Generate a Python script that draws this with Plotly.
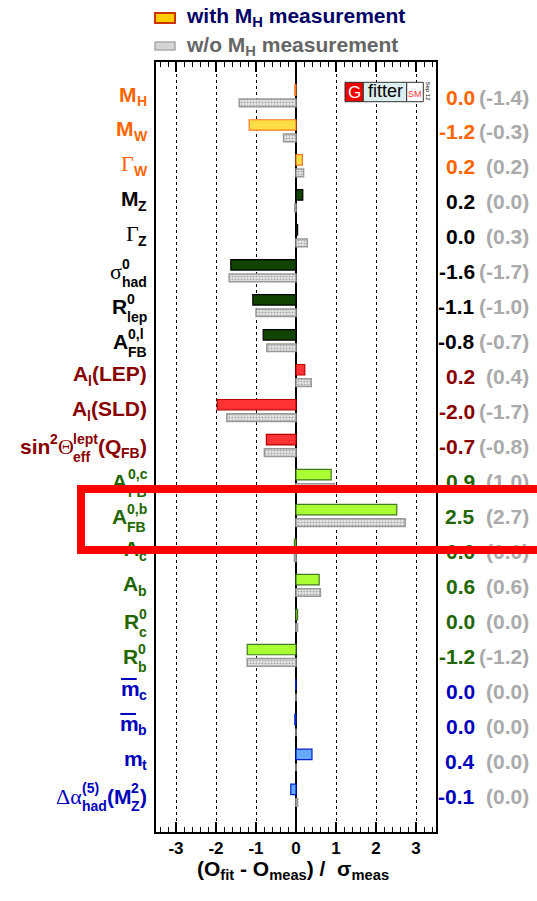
import plotly.graph_objects as go

# ---------------- data ----------------
groups = ["orange"] * 3 + ["black"] * 5 + ["darkred"] * 3 + ["green"] * 6 + ["blue"] * 4
pull_with = [-0.03, -1.17, 0.16, 0.17, 0.04, -1.63, -1.08, -0.82, 0.22, -1.97, -0.74,
             0.88, 2.52, -0.04, 0.58, 0.04, -1.22, -0.01, -0.03, 0.40, -0.13]
pull_without = [-1.42, -0.31, 0.19, -0.03, 0.28, -1.67, -1.00, -0.73, 0.38, -1.73, -0.79,
                0.96, 2.73, -0.04, 0.61, 0.04, -1.22, 0.0, 0.0, 0.0, 0.04]
# label pieces: ('t', text) bold sans, ('g', text) serif greek, ('s', sup, sub) stacked scripts,
# ('o', text) overlined bold text
labels = [
    [("t", "M"), ("s", None, "H")],
    [("t", "M"), ("s", None, "W")],
    [("g", "Γ"), ("s", None, "W")],
    [("t", "M"), ("s", None, "Z")],
    [("g", "Γ"), ("s", None, "Z")],
    [("g", "σ"), ("s", "0", "had")],
    [("t", "R"), ("s", "0", "lep")],
    [("t", "A"), ("s", "0,l", "FB")],
    [("t", "A"), ("s", None, "l"), ("t", "(LEP)")],
    [("t", "A"), ("s", None, "l"), ("t", "(SLD)")],
    [("t", "sin"), ("s", "2", None), ("g", "Θ"), ("s", "lept", "eff"), ("t", "(Q"), ("s", None, "FB"), ("t", ")")],
    [("t", "A"), ("s", "0,c", "FB")],
    [("t", "A"), ("s", "0,b", "FB")],
    [("t", "A"), ("s", None, "c")],
    [("t", "A"), ("s", None, "b")],
    [("t", "R"), ("s", "0", "c")],
    [("t", "R"), ("s", "0", "b")],
    [("o", "m"), ("s", None, "c")],
    [("o", "m"), ("s", None, "b")],
    [("t", "m"), ("s", None, "t")],
    [("g", "Δα"), ("s", "(5)", "had"), ("t", "(M"), ("s", "2", "Z"), ("t", ")")],
]
tick_vals = [-3, -2, -1, 0, 1, 2, 3]
tick_text = ["-3", "-2", "-1", "0", "1", "2", "3"]

# ---------------- styles ----------------
text_col = {"orange": "#FF6600", "black": "#000000", "darkred": "#880000",
            "green": "#226600", "blue": "#0000BB"}
fill_col = {"orange": "#FFDD44", "black": "#114400", "darkred": "#FF3333",
            "green": "#AAFF33", "blue": "#66AAFF"}
line_col = {"orange": "#FF7722", "black": "#000000", "darkred": "#BB0000",
            "green": "#447722", "blue": "#0022CC"}

L, R, T, B = 156, 436, 62, 832
ROW0, PITCH = 97.0, 34.97
SANS = "Liberation Sans"
SERIF = "Liberation Serif"
BASE, SCRIPT = 21, 14


def px_x(px):
    return (px - L) / (R - L)


def px_y(py):
    return (B - py) / (B - T)


AW = {" ": 278, "(": 333, ")": 333, ",": 278, "-": 333, ".": 278,
      "A": 722, "B": 722, "C": 722, "D": 722, "E": 667, "F": 611, "H": 722, "L": 611,
      "M": 833, "P": 667, "Q": 778, "R": 722, "S": 667, "W": 944, "Z": 611,
      "a": 556, "b": 611, "c": 556, "d": 611, "e": 556, "f": 333, "h": 611, "i": 278,
      "l": 278, "m": 889, "n": 611, "p": 611, "s": 556, "t": 333}
GW = {"Γ": 600, "σ": 560, "Θ": 722, "Δ": 612, "α": 631}


def tw(text, size, serif=False):
    tab = GW if serif else AW
    return sum(tab.get(c, 556) for c in text) * size / 1000.0


def fmt(v):
    s = f"{v:.1f}"
    return "0.0" if s == "-0.0" else s


rows = list(range(len(groups)))

fig = go.Figure()
fig.add_trace(go.Bar(
    x=pull_with, y=rows, orientation="h", width=0.30, offset=-0.35,
    marker=dict(color=[fill_col[g] for g in groups],
                line=dict(color=[line_col[g] for g in groups], width=1.2)),
    name="with MH measurement", showlegend=False, hoverinfo="skip"))
fig.add_trace(go.Bar(
    x=pull_without, y=rows, orientation="h", width=0.22, offset=0.06,
    marker=dict(color="#DDDDDD", line=dict(color="#999999", width=1.5),
                pattern=dict(shape=".", fgcolor="#AAAAAA", bgcolor="#E8E8E8",
                             size=3, solidity=0.4, fillmode="replace")),
    name="w/o MH measurement", showlegend=False, hoverinfo="skip"))

annotations = []
shapes = []


def ann_piece(x, i, dy, text, fam, size, col, weight):
    annotations.append(dict(
        x=0, xref="paper", xshift=x - L, y=i, yref="y", yshift=dy,
        xanchor="left", yanchor="middle", text=text, showarrow=False, borderpad=0,
        font=dict(family=fam, size=size, color=col, weight=weight)))


# left labels
RIGHT_EDGE = 146
for i, pieces in enumerate(labels):
    col = text_col[groups[i]]
    has_sup = any(p[0] == "s" and p[1] for p in pieces)
    base_dy = 0 if has_sup else 3
    widths = []
    for p in pieces:
        if p[0] == "t" or p[0] == "o":
            widths.append(tw(p[1], BASE))
        elif p[0] == "g":
            widths.append(tw(p[1], BASE, serif=True))
        else:
            widths.append(max(tw(p[1] or "", SCRIPT), tw(p[2] or "", SCRIPT)))
    x = RIGHT_EDGE - sum(widths)
    for p, w in zip(pieces, widths):
        if p[0] in ("t", "o"):
            ann_piece(x, i, base_dy, p[1], SANS, BASE, col, "bold")
            if p[0] == "o":
                oy = i - (9.5 + base_dy) / PITCH
                shapes.append(dict(type="line", xref="paper", yref="y",
                                   x0=px_x(x + 1.5), x1=px_x(x + w - 1.5),
                                   y0=oy, y1=oy, line=dict(color=col, width=2)))
        elif p[0] == "g":
            ann_piece(x, i, base_dy, p[1], SERIF, BASE + 1, col, "normal")
        else:
            stacked = bool(p[1]) and bool(p[2])
            if p[1]:
                ann_piece(x, i, 8, p[1], SANS, SCRIPT, col, "bold")
            if p[2]:
                ann_piece(x, i, -10 if stacked else (-6 if has_sup else -4), p[2], SANS, SCRIPT, col, "bold")
        x += w

# right values
for i in rows:
    annotations.append(dict(
        x=1, xref="paper", xshift=476 - R, y=i, yref="y", xanchor="right", yanchor="middle",
        text=fmt(pull_with[i]), showarrow=False, borderpad=0,
        font=dict(family=SANS, size=BASE, color=text_col[groups[i]], weight="bold")))
    annotations.append(dict(
        x=1, xref="paper", xshift=530 - R, y=i, yref="y", xanchor="right", yanchor="middle",
        text="(" + fmt(pull_without[i]) + ")", showarrow=False, borderpad=0,
        font=dict(family=SANS, size=BASE, color="#AAAAAA", weight="bold")))

# legend
shapes.append(dict(type="rect", xref="paper", yref="paper", x0=px_x(155), x1=px_x(175),
                   y0=px_y(23), y1=px_y(13), fillcolor="#FFCC00", line=dict(color="#CC3300", width=2)))
shapes.append(dict(type="rect", xref="paper", yref="paper", x0=px_x(155), x1=px_x(175),
                   y0=px_y(50), y1=px_y(42), fillcolor="#D4D4D4", line=dict(color="#AAAAAA", width=1.5)))
annotations.append(dict(x=px_x(185), y=px_y(17), xref="paper", yref="paper", xanchor="left",
                        yanchor="middle", showarrow=False, borderpad=0,
                        text="with M<sub>H</sub> measurement",
                        font=dict(family=SANS, size=BASE, color="#000066", weight="bold")))
annotations.append(dict(x=px_x(185), y=px_y(46), xref="paper", yref="paper", xanchor="left",
                        yanchor="middle", showarrow=False, borderpad=0,
                        text="w/o M<sub>H</sub> measurement",
                        font=dict(family=SANS, size=BASE, color="#666666", weight="bold")))

# Gfitter logo
for x0, x1, fc in [(345, 363.3, "#EE0000"), (363.3, 406.7, "#DDEEEE"), (406.7, 423.3, "#FFFFFF")]:
    shapes.append(dict(type="rect", xref="paper", yref="paper", x0=px_x(x0), x1=px_x(x1),
                       y0=px_y(101.7), y1=px_y(82.3), fillcolor=fc, line=dict(color="#333333", width=1)))
logo_txt = [(354.2, 92, "G", 17, "white", 0), (385, 91, "fitter", 18, "black", 0),
            (415, 94, "SM", 9, "#FF3333", 0), (427.5, 91, "Sep 12", 6, "black", 90)]
for lx, ly, t, s, c, ang in logo_txt:
    annotations.append(dict(x=px_x(lx), y=px_y(ly), xref="paper", yref="paper", showarrow=False,
                            xanchor="center", yanchor="middle", borderpad=0, textangle=ang,
                            text=t, font=dict(family=SANS, size=s, color=c)))

# axis title
annotations.append(dict(x=px_x(293), y=px_y(870), xref="paper", yref="paper", showarrow=False,
                        xanchor="center", yanchor="middle",
                        text="(O<sub>fit</sub> - O<sub>meas</sub>) /  σ<sub>meas</sub>",
                        font=dict(family=SANS, size=BASE, color="black", weight="bold")))

# red highlight box (drawn last, on top)
annotations.append(dict(x=px_x(77), y=px_y(485), xref="paper", yref="paper", xanchor="left",
                        yanchor="top", showarrow=False, text=" ", width=456, height=53,
                        borderpad=0, borderwidth=8, bordercolor="#FF0000",
                        font=dict(size=10)))

fig.update_layout(
    width=537, height=901,
    margin=dict(l=L, r=537 - R, t=T, b=901 - B, autoexpand=False),
    paper_bgcolor="white", plot_bgcolor="white",
    barmode="overlay", showlegend=False,
    annotations=annotations, shapes=shapes,
    xaxis=dict(range=[-3.5, 3.5], tickvals=tick_vals, ticktext=tick_text,
               ticks="inside", ticklen=10, tickwidth=1.5, tickcolor="black",
               showline=True, linecolor="black", linewidth=1.5, mirror="allticks",
               showgrid=True, gridcolor="black", griddash="dot", gridwidth=1,
               zeroline=True, zerolinecolor="black", zerolinewidth=1.5,
               tickfont=dict(family=SANS, size=17, color="black", weight="bold"),
               minor=dict(dtick=0.2, tick0=0, ticks="inside", ticklen=5, tickwidth=1,
                          tickcolor="black", showgrid=False),
               automargin=False, fixedrange=True),
    yaxis=dict(range=[20 + (B - ROW0 - 20 * PITCH) / PITCH, -(ROW0 - T) / PITCH],
               showticklabels=False, ticks="", showgrid=False, zeroline=False,
               showline=True, linecolor="black", linewidth=1.5, mirror=True,
               automargin=False, fixedrange=True),
)

fig.write_html("out.html", config={"displayModeBar": False},
               post_script="document.body.style.margin='0';document.body.style.overflow='hidden';")
